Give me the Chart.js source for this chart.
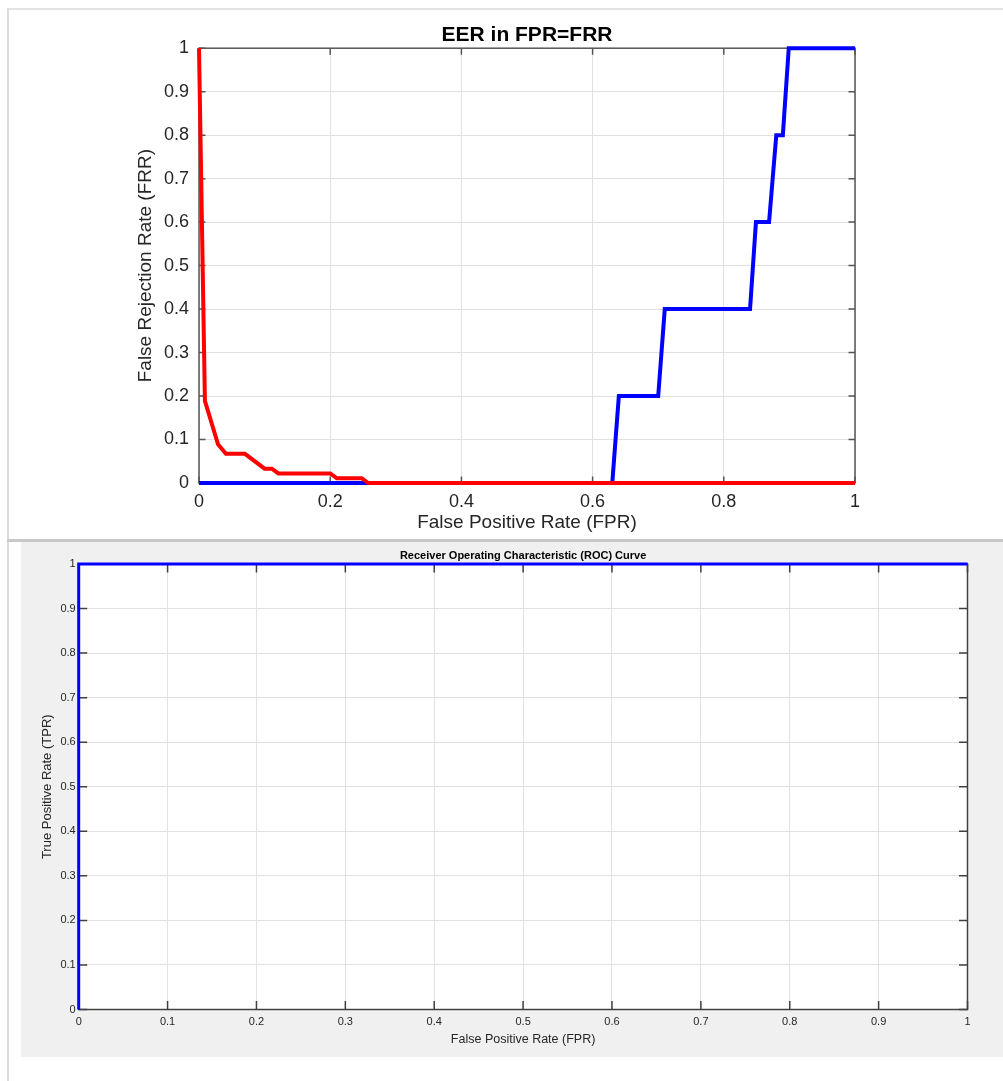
<!DOCTYPE html>
<html>
<head>
<meta charset="utf-8">
<script src="https://cdn.jsdelivr.net/npm/chart.js@4.4.1/dist/chart.umd.min.js"></script>
<style>
  html, body { margin: 0; padding: 0; background: #fff; }
  body { width: 1003px; height: 1081px; position: relative; overflow: hidden; }
  .frame-top { position: absolute; left: 7px; top: 8px; width: 996px; height: 2px; background: #e2e2e2; }
  .frame-left { position: absolute; left: 7px; top: 8px; width: 2px; height: 1073px; background: #dcdcdc; }
  .sep { position: absolute; left: 7px; top: 539px; width: 996px; height: 3px; background: #c8c8c8; }
  .roc-bg { position: absolute; left: 21px; top: 542px; width: 982px; height: 515px; background: #f0f0f0; }
  #eerChart { position: absolute; left: 0; top: 0; }
  #rocChart { position: absolute; left: 21px; top: 542px; }
</style>
</head>
<body>
<div class="frame-top"></div>
<div class="frame-left"></div>
<div class="sep"></div>
<div class="roc-bg"></div>
<canvas id="eerChart" width="1003" height="538"></canvas>
<canvas id="rocChart" width="982" height="515"></canvas>

<script>
// EER plot: FRR (red) and FAR (blue) against FPR
const frrX = [0, 0.009, 0.029, 0.041, 0.07, 0.10, 0.111, 0.121, 0.2, 0.21, 0.248, 0.258, 1];
const frrY = [1, 0.189, 0.089, 0.067, 0.067, 0.033, 0.033, 0.022, 0.022, 0.011, 0.011, 0, 0];
const farX = [0, 0.630, 0.640, 0.700, 0.710, 0.840, 0.849, 0.869, 0.880, 0.890, 0.899, 1];
const farY = [0, 0, 0.2, 0.2, 0.4, 0.4, 0.6, 0.6, 0.8, 0.8, 1, 1];
const eerXTicks = [0, 0.2, 0.4, 0.6, 0.8, 1];
const eerYTicks = [0, 0.1, 0.2, 0.3, 0.4, 0.5, 0.6, 0.7, 0.8, 0.9, 1];

// ROC plot
const rocX = [0, 0, 1];
const rocY = [0, 1, 1];
const rocXTicks = [0, 0.1, 0.2, 0.3, 0.4, 0.5, 0.6, 0.7, 0.8, 0.9, 1];
const rocYTicks = [0, 0.1, 0.2, 0.3, 0.4, 0.5, 0.6, 0.7, 0.8, 0.9, 1];

const FONT = '"Liberation Sans", Arial, Helvetica, sans-serif';
const toPoints = (xs, ys) => xs.map((x, i) => ({ x, y: ys[i] }));

// matlab-like axes: white plot area, box and inward ticks on all four sides
const matlabBox = {
  id: 'matlabBox',
  beforeDraw(chart, args, opts) {
    const { ctx, chartArea: a } = chart;
    ctx.save();
    ctx.fillStyle = '#fff';
    ctx.fillRect(a.left, a.top, a.right - a.left, a.bottom - a.top);
    ctx.restore();
  },
  beforeDatasetsDraw(chart, args, opts) {
    const { ctx, chartArea: a, scales: { x, y } } = chart;
    const len = opts.tickLength;
    ctx.save();
    ctx.strokeStyle = opts.color;
    ctx.lineWidth = opts.width;
    ctx.strokeRect(a.left, a.top, a.right - a.left, a.bottom - a.top);
    ctx.beginPath();
    x.ticks.forEach(t => {
      const px = x.getPixelForValue(t.value);
      ctx.moveTo(px, a.bottom); ctx.lineTo(px, a.bottom - len);
      ctx.moveTo(px, a.top); ctx.lineTo(px, a.top + len);
    });
    y.ticks.forEach(t => {
      const py = y.getPixelForValue(t.value);
      ctx.moveTo(a.left, py); ctx.lineTo(a.left + len, py);
      ctx.moveTo(a.right, py); ctx.lineTo(a.right - len, py);
    });
    ctx.stroke();
    ctx.restore();
  }
};

function makeAxis(ticks, cfg) {
  return {
    type: 'linear',
    min: 0,
    max: 1,
    afterBuildTicks: s => { s.ticks = ticks.map(v => ({ value: v })); },
    afterFit: s => {
      if (cfg.width !== undefined) s.width = cfg.width;
      if (cfg.height !== undefined) s.height = cfg.height;
    },
    border: { display: false },
    grid: { color: cfg.gridColor, lineWidth: 1, drawTicks: false },
    ticks: {
      autoSkip: false,
      maxRotation: 0,
      padding: cfg.tickPad,
      color: '#262626',
      font: { family: FONT, size: cfg.tickSize },
      callback: v => String(v)
    },
    title: {
      display: true,
      text: cfg.title,
      color: '#262626',
      font: { family: FONT, size: cfg.titleSize },
      padding: cfg.titlePad
    }
  };
}

new Chart(document.getElementById('eerChart'), {
  type: 'line',
  data: {
    datasets: [
      {
        label: 'FRR',
        data: toPoints(frrX, frrY),
        borderColor: '#ff0000',
        borderWidth: 4,
        pointRadius: 0,
        tension: 0,
        clip: false
      },
      {
        label: 'FAR',
        data: toPoints(farX, farY),
        borderColor: '#0000ff',
        borderWidth: 4,
        pointRadius: 0,
        tension: 0,
        clip: false
      }
    ]
  },
  options: {
    responsive: false,
    animation: false,
    devicePixelRatio: 1,
    layout: { padding: { left: 0, right: 148, top: 0, bottom: 0 } },
    plugins: {
      legend: { display: false },
      tooltip: { enabled: false },
      title: {
        display: true,
        text: 'EER in FPR=FRR',
        color: '#000',
        fullSize: false,
        font: { family: FONT, size: 21, weight: 'bold' },
        padding: { top: 23, bottom: 0 }
      },
      matlabBox: { color: '#555', width: 1.5, tickLength: 6.5 }
    },
    scales: {
      x: makeAxis(eerXTicks, {
        height: 55, gridColor: '#e0e0e0', tickPad: 8, tickSize: 18,
        title: 'False Positive Rate (FPR)', titleSize: 19, titlePad: { top: 0, bottom: 4 }
      }),
      y: makeAxis(eerYTicks, {
        width: 199, gridColor: '#e0e0e0', tickPad: 10, tickSize: 18,
        title: 'False Rejection Rate (FRR)', titleSize: 19, titlePad: { top: 134, bottom: 0 }
      })
    }
  },
  plugins: [matlabBox]
});

new Chart(document.getElementById('rocChart'), {
  type: 'line',
  data: {
    datasets: [{
      label: 'ROC',
      data: toPoints(rocX, rocY),
      borderColor: '#0000ff',
      borderWidth: 3,
      pointRadius: 0,
      tension: 0,
      clip: false
    }]
  },
  options: {
    responsive: false,
    animation: false,
    devicePixelRatio: 1,
    layout: { padding: { left: 0, right: 35.5, top: 0, bottom: 0 } },
    plugins: {
      legend: { display: false },
      tooltip: { enabled: false },
      title: {
        display: true,
        text: 'Receiver Operating Characteristic (ROC) Curve',
        color: '#000',
        fullSize: false,
        font: { family: FONT, size: 11, weight: 'bold' },
        padding: { top: 7, bottom: 1.8 }
      },
      matlabBox: { color: '#404040', width: 1.5, tickLength: 8.5 }
    },
    scales: {
      x: makeAxis(rocXTicks, {
        height: 47.5, gridColor: '#e2e2e2', tickPad: 6, tickSize: 11,
        title: 'False Positive Rate (FPR)', titleSize: 12.5, titlePad: { top: 0, bottom: 9.5 }
      }),
      y: makeAxis(rocYTicks, {
        width: 57.7, gridColor: '#e2e2e2', tickPad: 3, tickSize: 11,
        title: 'True Positive Rate (TPR)', titleSize: 13, titlePad: { top: 19, bottom: 0 }
      })
    }
  },
  plugins: [matlabBox]
});
</script>
</body>
</html>
